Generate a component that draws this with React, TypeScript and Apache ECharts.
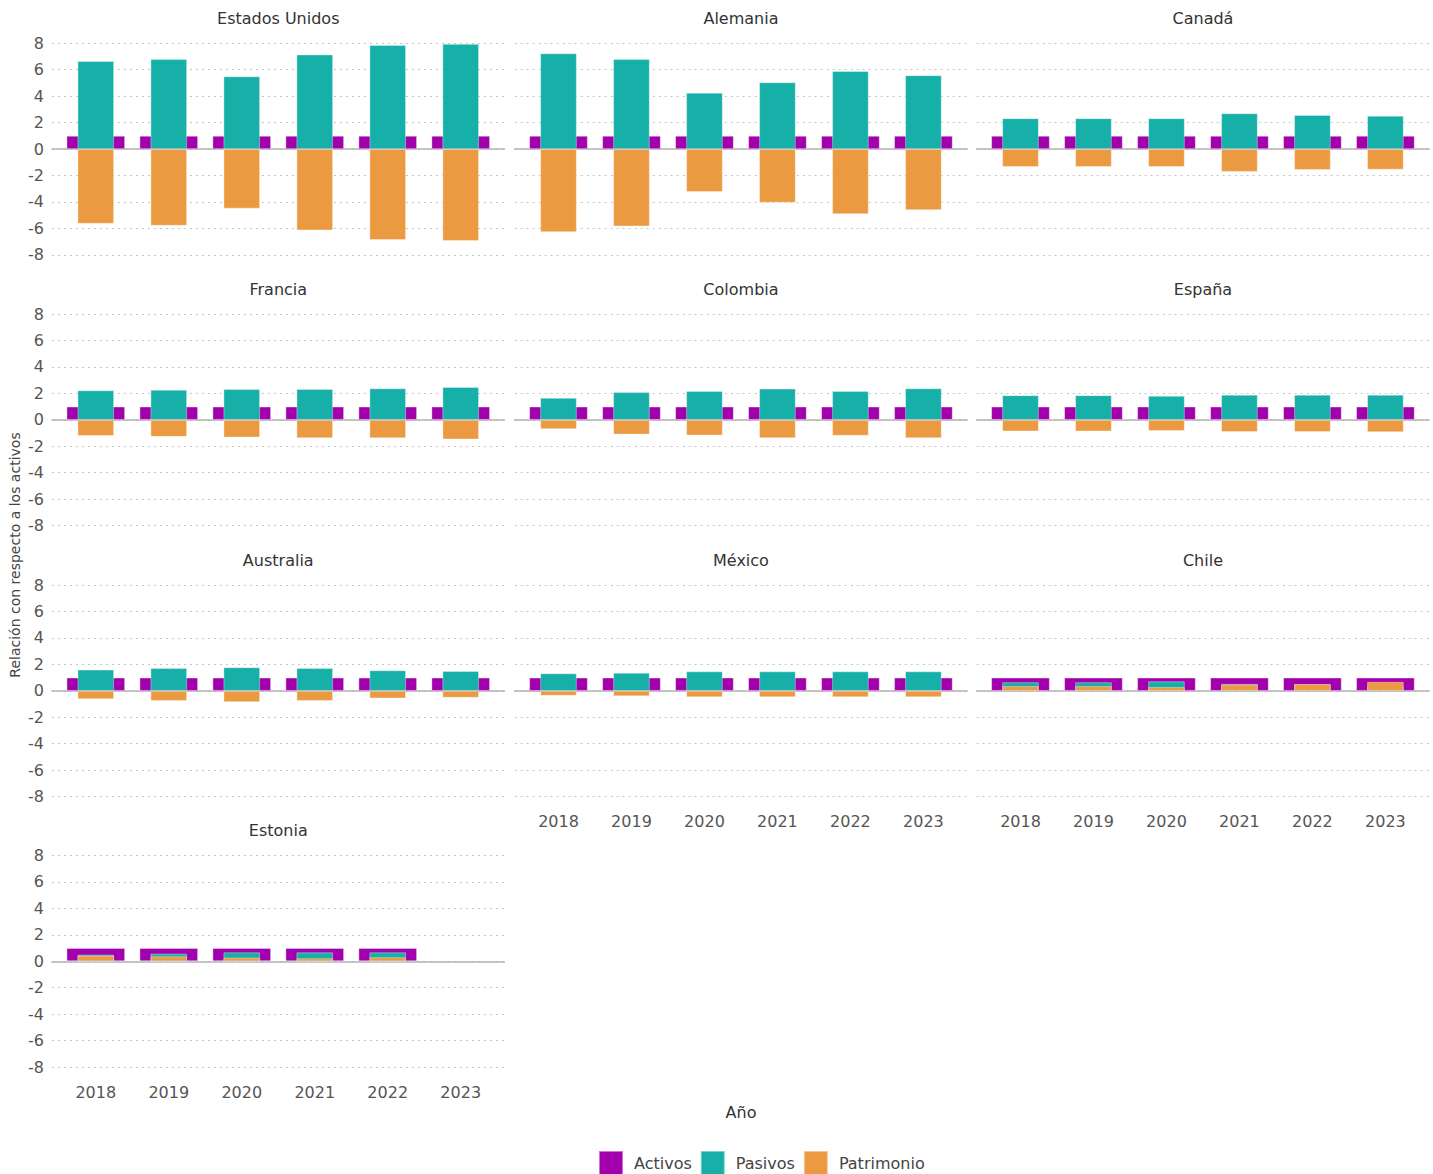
import React, { useEffect, useRef } from "react";
import * as echarts from "echarts";

const YEARS = ["2018", "2019", "2020", "2021", "2022", "2023"];
const COUNTRIES = ["Estados Unidos", "Alemania", "Canadá", "Francia", "Colombia", "España", "Australia", "México", "Chile", "Estonia"];

const ACTIVOS_FULL = [1, 1, 1, 1, 1, 1];
const ACTIVOS_ESTONIA = [1, 1, 1, 1, 1, null];

const PASIVOS_EEUU = [6.65, 6.8, 5.5, 7.15, 7.87, 7.95];
const PATRIMONIO_EEUU = [-5.65, -5.8, -4.5, -6.15, -6.87, -6.95];
const PASIVOS_ALEMANIA = [7.24, 6.8, 4.25, 5.05, 5.9, 5.58];
const PATRIMONIO_ALEMANIA = [-6.28, -5.85, -3.25, -4.05, -4.92, -4.62];
const PASIVOS_CANADA = [2.33, 2.33, 2.33, 2.7, 2.57, 2.52];
const PATRIMONIO_CANADA = [-1.35, -1.35, -1.35, -1.72, -1.58, -1.55];
const PASIVOS_FRANCIA = [2.23, 2.27, 2.32, 2.33, 2.38, 2.48];
const PATRIMONIO_FRANCIA = [-1.22, -1.28, -1.33, -1.38, -1.39, -1.48];
const PASIVOS_COLOMBIA = [1.66, 2.09, 2.17, 2.36, 2.17, 2.38];
const PATRIMONIO_COLOMBIA = [-0.7, -1.11, -1.18, -1.38, -1.2, -1.39];
const PASIVOS_ESPANA = [1.86, 1.86, 1.81, 1.9, 1.9, 1.9];
const PATRIMONIO_ESPANA = [-0.87, -0.87, -0.83, -0.92, -0.92, -0.93];
const PASIVOS_AUSTRALIA = [1.6, 1.73, 1.78, 1.73, 1.55, 1.5];
const PATRIMONIO_AUSTRALIA = [-0.62, -0.76, -0.85, -0.76, -0.57, -0.52];
const PASIVOS_MEXICO = [1.32, 1.37, 1.47, 1.47, 1.47, 1.47];
const PATRIMONIO_MEXICO = [-0.37, -0.41, -0.48, -0.48, -0.48, -0.48];
const PASIVOS_CHILE = [0.65, 0.65, 0.72, 0.52, 0.49, 0.32];
const PATRIMONIO_CHILE = [0.35, 0.35, 0.28, 0.48, 0.51, 0.68];
const PASIVOS_ESTONIA = [0.5, 0.57, 0.67, 0.67, 0.67, null];
const PATRIMONIO_ESTONIA = [0.42, 0.37, 0.27, 0.22, 0.3, null];

const Y_TICKS = [-8, -6, -4, -2, 0, 2, 4, 6, 8];

const ACTIVOS = [ACTIVOS_FULL, ACTIVOS_FULL, ACTIVOS_FULL, ACTIVOS_FULL, ACTIVOS_FULL, ACTIVOS_FULL, ACTIVOS_FULL, ACTIVOS_FULL, ACTIVOS_FULL, ACTIVOS_ESTONIA];
const PASIVOS = [PASIVOS_EEUU, PASIVOS_ALEMANIA, PASIVOS_CANADA, PASIVOS_FRANCIA, PASIVOS_COLOMBIA, PASIVOS_ESPANA, PASIVOS_AUSTRALIA, PASIVOS_MEXICO, PASIVOS_CHILE, PASIVOS_ESTONIA];
const PATRIMONIO = [PATRIMONIO_EEUU, PATRIMONIO_ALEMANIA, PATRIMONIO_CANADA, PATRIMONIO_FRANCIA, PATRIMONIO_COLOMBIA, PATRIMONIO_ESPANA, PATRIMONIO_AUSTRALIA, PATRIMONIO_MEXICO, PATRIMONIO_CHILE, PATRIMONIO_ESTONIA];

const C_ACT = "#a300ad";
const C_PAS = "#17b0a8";
const C_PAT = "#ec9a41";
const FONT = "DejaVu Sans";

const COL_LEFT = [52, 514.7, 976.7];
const COL_W = 452.5;
const ROW_TOP = [43.3, 314.1, 585.1, 855.5];
const ROW_H = 211.5;

function toPoints(arr: (number | null)[]) {
  const out: [number, number][] = [];
  arr.forEach((v, i) => {
    if (v !== null && v !== undefined) out.push([i, v]);
  });
  return out;
}

export default function App() {
  const ref = useRef<HTMLDivElement>(null);
  useEffect(() => {
    if (!ref.current) return;
    const chart = echarts.init(ref.current, undefined, { renderer: "svg" });
    const grids: any[] = [];
    const xAxes: any[] = [];
    const yAxes: any[] = [];
    const series: any[] = [];
    const titles: any[] = [];
    const n = COUNTRIES.length;
    COUNTRIES.forEach((name, i) => {
      const col = i % 3;
      const row = Math.floor(i / 3);
      const isBottom = i + 3 >= n;
      grids.push({ left: COL_LEFT[col], top: ROW_TOP[row], width: COL_W, height: ROW_H, containLabel: false });
      titles.push({
        text: name,
        left: COL_LEFT[col] + COL_W / 2,
        top: ROW_TOP[row] - 33,
        padding: 0,
        textAlign: "center",
        textStyle: { fontFamily: FONT, fontSize: 16, fontWeight: "normal", color: "#333" },
      });
      xAxes.push({
        type: "value",
        gridIndex: i,
        min: -0.6,
        max: 5.6,
        position: "bottom",
        axisLine: { show: false, onZero: false },
        axisTick: { show: false },
        splitLine: { show: false },
        axisLabel: {
          show: isBottom,
          customValues: [0, 1, 2, 3, 4, 5],
          formatter: (v: number) => YEARS[Math.round(v)] ?? "",
          fontFamily: FONT,
          fontSize: 16,
          color: "#555",
          margin: 17,
        },
      });
      xAxes.push({
        type: "value",
        gridIndex: i,
        min: -0.6,
        max: 5.6,
        position: "top",
        axisLine: { show: true, onZero: true, lineStyle: { color: "#b3b3b3", width: 1.5 } },
        axisTick: { show: false },
        splitLine: { show: false },
        axisLabel: { show: false },
      });
      yAxes.push({
        type: "value",
        gridIndex: i,
        min: -8,
        max: 8,
        interval: 2,
        axisLine: { show: false },
        axisTick: { show: false },
        axisLabel: {
          show: col === 0,
          fontFamily: FONT,
          fontSize: 16,
          color: "#555",
          margin: 8,
          customValues: Y_TICKS,
        },
        splitLine: { show: true, lineStyle: { color: "#c4c4c4", width: 1, type: [2, 4] } },
      });
      const ax = i * 2;
      series.push({
        name: "Activos",
        type: "bar",
        xAxisIndex: ax,
        yAxisIndex: i,
        barWidth: 58.5,
        data: toPoints(ACTIVOS[i]),
        itemStyle: { color: C_ACT, borderColor: "rgba(255,255,255,0.45)", borderWidth: 0.8 },
        z: 2,
      });
      series.push({
        name: "Pasivos",
        type: "bar",
        xAxisIndex: ax + 1,
        yAxisIndex: i,
        barWidth: 36.5,
        barGap: "-100%",
        data: toPoints(PASIVOS[i]),
        itemStyle: { color: C_PAS, borderColor: "rgba(255,255,255,0.45)", borderWidth: 0.8 },
        z: 3,
      });
      series.push({
        name: "Patrimonio",
        type: "bar",
        xAxisIndex: ax + 1,
        yAxisIndex: i,
        barWidth: 36.5,
        barGap: "-100%",
        data: toPoints(PATRIMONIO[i]),
        itemStyle: { color: C_PAT, borderColor: "rgba(255,255,255,0.45)", borderWidth: 0.8 },
        z: 4,
      });
    });

    chart.setOption({
      animation: false,
      textStyle: { fontFamily: FONT },
      title: titles,
      grid: grids,
      xAxis: xAxes,
      yAxis: yAxes,
      series,
      legend: {
        data: ["Activos", "Pasivos", "Patrimonio"],
        left: 598,
        top: 1150,
        padding: 0,
        icon: "rect",
        itemWidth: 24,
        itemHeight: 24,
        itemGap: 8,
        selectedMode: false,
        formatter: "{a|{name}}",
        textStyle: {
          fontFamily: FONT,
          fontSize: 16,
          color: "#444",
          rich: { a: { fontFamily: FONT, fontSize: 16, color: "#444", padding: [0, 0, 0, 6] } },
        },
      },
      graphic: [
        {
          type: "text",
          x: 15,
          y: 555,
          rotation: Math.PI / 2,
          style: {
            text: "Relación con respecto a los activos",
            font: `14px "${FONT}"`,
            fill: "#444",
            align: "center",
            verticalAlign: "middle",
          },
        },
        {
          type: "text",
          x: 741,
          y: 1112,
          style: {
            text: "Año",
            font: `16px "${FONT}"`,
            fill: "#333",
            align: "center",
            verticalAlign: "middle",
          },
        },
      ],
    });
    return () => chart.dispose();
  }, []);
  return <div ref={ref} style={{ position: "absolute", left: 0, top: 0, width: 1433, height: 1174 }} />;
}
